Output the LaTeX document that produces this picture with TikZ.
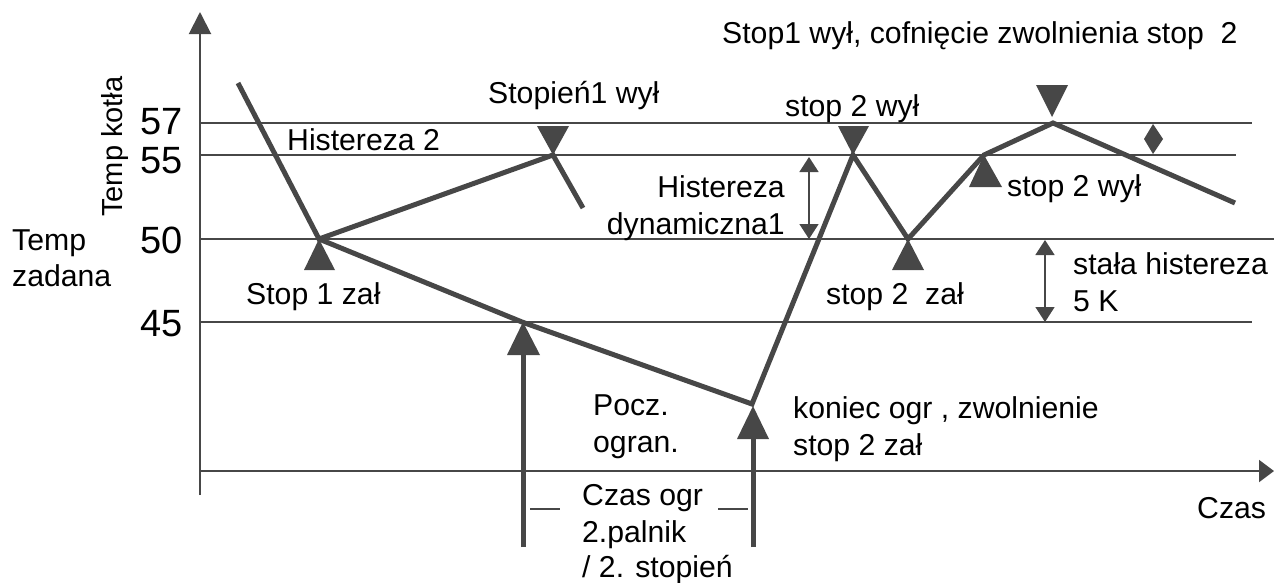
\documentclass[tikz,border=0pt]{standalone}
\usepackage{fontspec}
\setmainfont{Liberation Sans}
\usetikzlibrary{arrows.meta}
\definecolor{ink}{HTML}{474747}
\begin{document}
\begin{tikzpicture}[x=1pt,y=-1pt,
  axis/.style={draw=ink, line width=2pt},
  level/.style={draw=ink, line width=2.6pt},
  curve/.style={draw=ink, line width=5pt, line join=miter, miter limit=4},
  shaft/.style={draw=ink, line width=5pt},
  marker/.style={fill=ink},
  dim/.style={draw=ink, line width=1.6pt, {Triangle[width=19pt,length=15pt]}-{Triangle[width=19pt,length=15pt]}},
  tick/.style={draw=ink, line width=1.6pt},
  lbl/.style={inner sep=0pt, anchor=base west, font=\fontsize{30.2}{35}\selectfont},
  lblr/.style={inner sep=0pt, anchor=base east, font=\fontsize{30.2}{35}\selectfont},
  num/.style={inner sep=0pt, anchor=base west, font=\fontsize{38}{44}\selectfont},
]
\useasboundingbox (0,0) rectangle (1274,582);

% axes
\coordinate (ybot) at (200,495);
\coordinate (ytop) at (200,12);
\coordinate (xleft) at (200,471);
\coordinate (xright) at (1274,471);
\draw[axis, -{Triangle[width=22pt,length=22pt]}] (ybot) -- (ytop);
\draw[axis, -{Triangle[width=22pt,length=15pt]}] (xleft) -- (xright);

% temperature levels
\coordinate (l57a) at (200,123); \coordinate (l57b) at (1252,123);
\coordinate (l55a) at (200,155); \coordinate (l55b) at (1236,155);
\coordinate (l50a) at (200,239); \coordinate (l50b) at (1274,239);
\coordinate (l45a) at (200,322); \coordinate (l45b) at (1252,322);
\draw[level] (l57a) -- (l57b);
\draw[level] (l55a) -- (l55b);
\draw[level] (l50a) -- (l50b);
\draw[level] (l45a) -- (l45b);

% boiler temperature course
\coordinate (a0) at (238,83);
\coordinate (s1on) at (319,239);
\coordinate (s1off) at (553,155);
\coordinate (s1end) at (583,208);
\coordinate (lim) at (522,322);
\coordinate (low) at (752,404);
\coordinate (p55a) at (853,155);
\coordinate (p50) at (908,239);
\coordinate (p55b) at (984,155);
\coordinate (p57) at (1053,123);
\coordinate (endr) at (1235,203);
\draw[curve] (a0) -- (s1on) -- (s1off) -- (s1end);
\draw[curve] (s1on) -- (lim) -- (low) -- (p55a) -- (p50) -- (p55b) -- (p57) -- (endr);

% switching markers
\fill[marker] (s1on) -- (304,270) -- (335,270) -- cycle;
\fill[marker] (s1off) -- (537,126) -- (569,126) -- cycle;
\fill[marker] (p55a) -- (838,126) -- (869,126) -- cycle;
\fill[marker] (1052,117) -- (1036,85) -- (1068,85) -- cycle;
\fill[marker] (p55b) -- (969,187) -- (1002,187) -- cycle;
\fill[marker] (p50) -- (892,270) -- (924,270) -- cycle;

% limitation start / end arrows
\coordinate (b1) at (523,547); \coordinate (h1) at (523,352);
\coordinate (b2) at (753,547); \coordinate (h2) at (753,436);
\draw[shaft] (b1) -- (h1);
\draw[shaft] (b2) -- (h2);
\fill[marker] (523,322) -- (507,355) -- (540,355) -- cycle;
\fill[marker] (753,406) -- (737,439) -- (769,439) -- cycle;

% hysteresis dimensions
\coordinate (d1a) at (809,157); \coordinate (d1b) at (809,239);
\coordinate (d2a) at (1045,240); \coordinate (d2b) at (1045,322);
\draw[dim] (d1a) -- (d1b);
\draw[dim] (d2a) -- (d2b);
\fill[marker] (1153,124) -- (1163,139) -- (1153,154) -- (1144,139) -- cycle;

% time span ticks
\coordinate (t1a) at (530,509); \coordinate (t1b) at (560,509);
\coordinate (t2a) at (718,509); \coordinate (t2b) at (748,509);
\draw[tick] (t1a) -- (t1b);
\draw[tick] (t2a) -- (t2b);

% axis labels
\node[lbl, rotate=90, font=\fontsize{29}{34}\selectfont] (ylab) at (122,217) {Temp kotła};
\node[num] (n57) at (140,134) {57};
\node[num] (n55) at (140,173) {55};
\node[num] (n50) at (140,253) {50};
\node[num] (n45) at (140,336) {45};
\node[lbl] (tz1) at (12,250) {Temp};
\node[lbl] (tz2) at (12,286) {zadana};
\node[lbl] (czas) at (1197,518) {Czas};

% annotations
\node[lbl] (top) at (722,43) {Stop1 wył, cofnięcie zwolnienia stop\ \ 2};
\node[lbl] (st1off) at (488,103) {Stopień1 wył};
\node[lbl] (st2off) at (785,116) {stop 2 wył};
\node[lbl] (hist2) at (287,150) {Histereza 2};
\node[lblr] (hd1) at (785,197) {Histereza};
\node[lblr] (hd2) at (785,234) {dynamiczna1};
\node[lbl] (st1on) at (246,304) {Stop 1 zał};
\node[lbl] (st2on) at (826,304) {stop 2\ \ zał};
\node[lbl] (st2off2) at (1007,196) {stop 2 wył};
\node[lbl] (sh1) at (1073,274) {stała histereza};
\node[lbl] (sh2) at (1073,311) {5 K};
\node[lbl] (pocz1) at (593,415) {Pocz.};
\node[lbl] (pocz2) at (593,452) {ogran.};
\node[lbl] (kon1) at (793,418) {koniec ogr , zwolnienie};
\node[lbl] (kon2) at (793,455) {stop 2 zał};
\node[lbl] (co1) at (582,505) {Czas ogr};
\node[lbl] (co2) at (582,542) {2.palnik};
\node[lbl] (co3) at (582,577) {/ 2. stopień};
\end{tikzpicture}
\end{document}
